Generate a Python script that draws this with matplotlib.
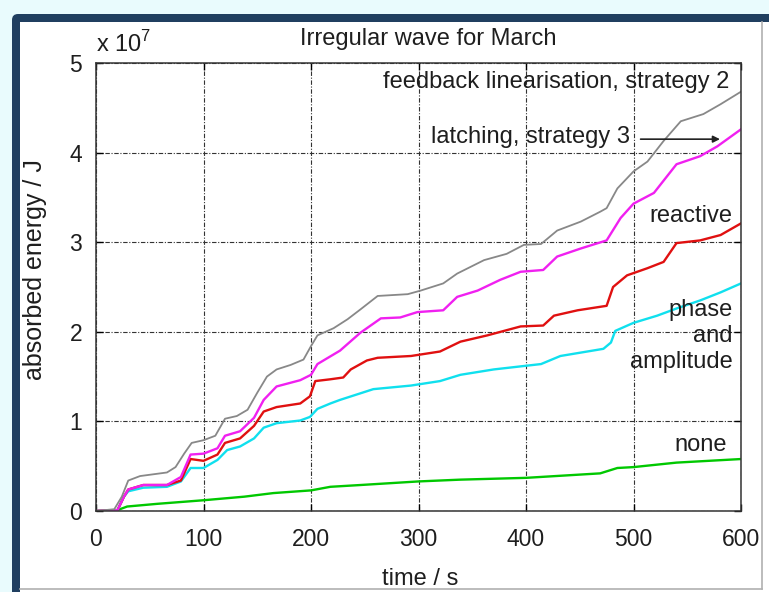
import matplotlib.pyplot as plt
from matplotlib.patches import Rectangle, FancyBboxPatch

plt.rcParams['font.family'] = ['Liberation Sans', 'DejaVu Sans']
plt.rcParams['mathtext.fontset'] = 'custom'
plt.rcParams['mathtext.rm'] = 'Liberation Sans'

# absorbed energy in units of 1e7 J
t_feedback = [0, 17, 24, 30, 41, 66, 74, 82, 89, 100, 111, 120, 131, 141, 150, 159, 168,
              181, 193, 200, 206, 221, 234, 246, 262, 290, 302, 323, 336, 361, 382, 398,
              414, 429, 451, 469, 475, 485, 500, 513, 528, 544, 565, 581, 600]
e_feedback = [0, 0.02, 0.16, 0.34, 0.39, 0.43, 0.49, 0.64, 0.76, 0.79, 0.84, 1.03, 1.06,
              1.13, 1.32, 1.50, 1.58, 1.63, 1.69, 1.84, 1.96, 2.04, 2.14, 2.25, 2.40, 2.42,
              2.46, 2.54, 2.65, 2.80, 2.87, 2.97, 2.98, 3.13, 3.23, 3.34, 3.38, 3.60, 3.79,
              3.90, 4.13, 4.35, 4.43, 4.54, 4.68]

t_latching = [0, 20, 26, 30, 44, 66, 79, 88, 100, 113, 120, 134, 147, 156, 168, 190, 200,
              206, 227, 246, 265, 283, 299, 323, 336, 355, 376, 395, 416, 429, 451, 475,
              488, 500, 519, 540, 562, 578, 600]
e_latching = [0, 0.01, 0.16, 0.24, 0.29, 0.29, 0.38, 0.63, 0.64, 0.70, 0.84, 0.89, 1.04,
              1.24, 1.39, 1.46, 1.52, 1.64, 1.79, 1.99, 2.15, 2.16, 2.22, 2.24, 2.39, 2.46,
              2.58, 2.67, 2.69, 2.84, 2.93, 3.02, 3.27, 3.43, 3.55, 3.87, 3.96, 4.07, 4.26]

t_reactive = [0, 20, 26, 30, 44, 66, 79, 88, 100, 113, 120, 134, 147, 156, 168, 190, 199,
              204, 218, 230, 237, 252, 262, 293, 320, 339, 364, 395, 416, 426, 448, 475,
              481, 494, 513, 528, 540, 562, 581, 600]
e_reactive = [0, 0.01, 0.16, 0.24, 0.29, 0.29, 0.34, 0.58, 0.56, 0.63, 0.76, 0.81, 0.95,
              1.11, 1.16, 1.20, 1.28, 1.45, 1.47, 1.49, 1.58, 1.68, 1.71, 1.73, 1.78, 1.89,
              1.96, 2.06, 2.07, 2.18, 2.24, 2.29, 2.50, 2.63, 2.71, 2.78, 2.99, 3.02, 3.08,
              3.21]

t_phase = [0, 20, 26, 30, 44, 66, 79, 88, 100, 113, 122, 134, 147, 156, 168, 190, 199,
           206, 218, 227, 258, 293, 320, 339, 370, 414, 432, 472, 479, 483, 500, 522, 540,
           562, 581, 600]
e_phase = [0, 0.01, 0.16, 0.22, 0.26, 0.27, 0.33, 0.48, 0.48, 0.57, 0.68, 0.72, 0.81,
           0.93, 0.98, 1.01, 1.05, 1.14, 1.20, 1.24, 1.36, 1.40, 1.45, 1.52, 1.58, 1.64,
           1.73, 1.81, 1.88, 2.01, 2.10, 2.18, 2.26, 2.35, 2.44, 2.54]

t_none = [0, 20, 29, 57, 100, 138, 165, 200, 218, 246, 300, 339, 400, 469, 485, 500, 540, 600]
e_none = [0, 0.01, 0.05, 0.08, 0.12, 0.16, 0.20, 0.23, 0.27, 0.29, 0.33, 0.35, 0.37, 0.42,
          0.48, 0.49, 0.54, 0.58]

x_ticks = [0, 100, 200, 300, 400, 500, 600]
y_ticks = [0, 1, 2, 3, 4, 5]

txt = '#1e1e1e'
fig = plt.figure(figsize=(7.69, 5.92), dpi=100, facecolor='#e9fbfd')

# page frame behind the picture (pixel coords)
fig.patches.append(FancyBboxPatch((12, -20), 800, 592 - 14 + 20,
                                  boxstyle='round,pad=0,rounding_size=6',
                                  fc='#203f60', ec='none', transform=None, zorder=-3))
fig.patches.append(Rectangle((20, -20), 800, 592 - 22 + 20, fc='white', ec='none',
                             transform=None, zorder=-2))

ax = fig.add_axes([96 / 769, 1 - 511 / 592, (741 - 96) / 769, (511 - 63) / 592])
ax.plot(t_none, e_none, color='#00c800', lw=1.7)
ax.plot(t_phase, e_phase, color='#10e0ee', lw=1.7)
ax.plot(t_reactive, e_reactive, color='#e01010', lw=1.7)
ax.plot(t_latching, e_latching, color='#f020f0', lw=1.7)
ax.plot(t_feedback, e_feedback, color='#888888', lw=1.3)

ax.set_xlim(0, 600)
ax.set_ylim(0, 5)
ax.set_xticks(x_ticks)
ax.set_yticks(y_ticks)
ax.tick_params(direction='in', length=5, width=1, labelsize=16.5, labelcolor=txt,
               top=True, right=True)
ax.tick_params(axis='x', pad=12)
ax.tick_params(axis='y', pad=10)
ax.grid(True, color='#333333', lw=0.8, ls=(0, (4, 1.5, 1, 1.5)))
for s in ax.spines.values():
    s.set_linewidth(1.1)
    s.set_color('#333333')

kw = dict(fontsize=17, color=txt, ha='right', va='center')
ax.text(589, 4.79, 'feedback linearisation, strategy 2', **kw)
ax.text(497, 4.17, 'latching, strategy 3', **kw)
ax.annotate('', xy=(583, 4.15), xytext=(504, 4.15),
            arrowprops=dict(arrowstyle='-|>', color='#222222', lw=1.2))
ax.text(592, 3.29, 'reactive', **kw)
ax.text(592, 2.24, 'phase', **kw)
ax.text(592, 1.95, 'and', **kw)
ax.text(592, 1.66, 'amplitude', **kw)
ax.text(587, 0.74, 'none', **kw)

fig.text(428 / 769, 1 - 39 / 592, 'Irregular wave for March', fontsize=17, color=txt,
         ha='center', va='center')
fig.text(96 / 769, 1 - 44 / 592, r'x 10$^7$', fontsize=17, color=txt, ha='left',
         va='center')
fig.text(35 / 769, 1 - 270 / 592, 'absorbed energy / J', fontsize=18, color=txt,
         rotation=90, ha='center', va='center')
fig.text(420 / 769, 1 - 579 / 592, 'time / s', fontsize=17, color=txt, ha='center',
         va='center')

# border of the pasted picture, clipping the last tick label
fig.patches.append(Rectangle((762, 0), 20, 592 - 22, fc='white', ec='none',
                             transform=None, zorder=5))
fig.lines.append(plt.Line2D([762, 762], [3, 570], color='#b0b0b0', lw=1.2,
                            transform=None, zorder=6))
fig.lines.append(plt.Line2D([20, 762], [3, 3], color='#b0b0b0', lw=1.2,
                            transform=None, zorder=6))

fig.savefig('out.png', dpi=100, facecolor=fig.get_facecolor())
